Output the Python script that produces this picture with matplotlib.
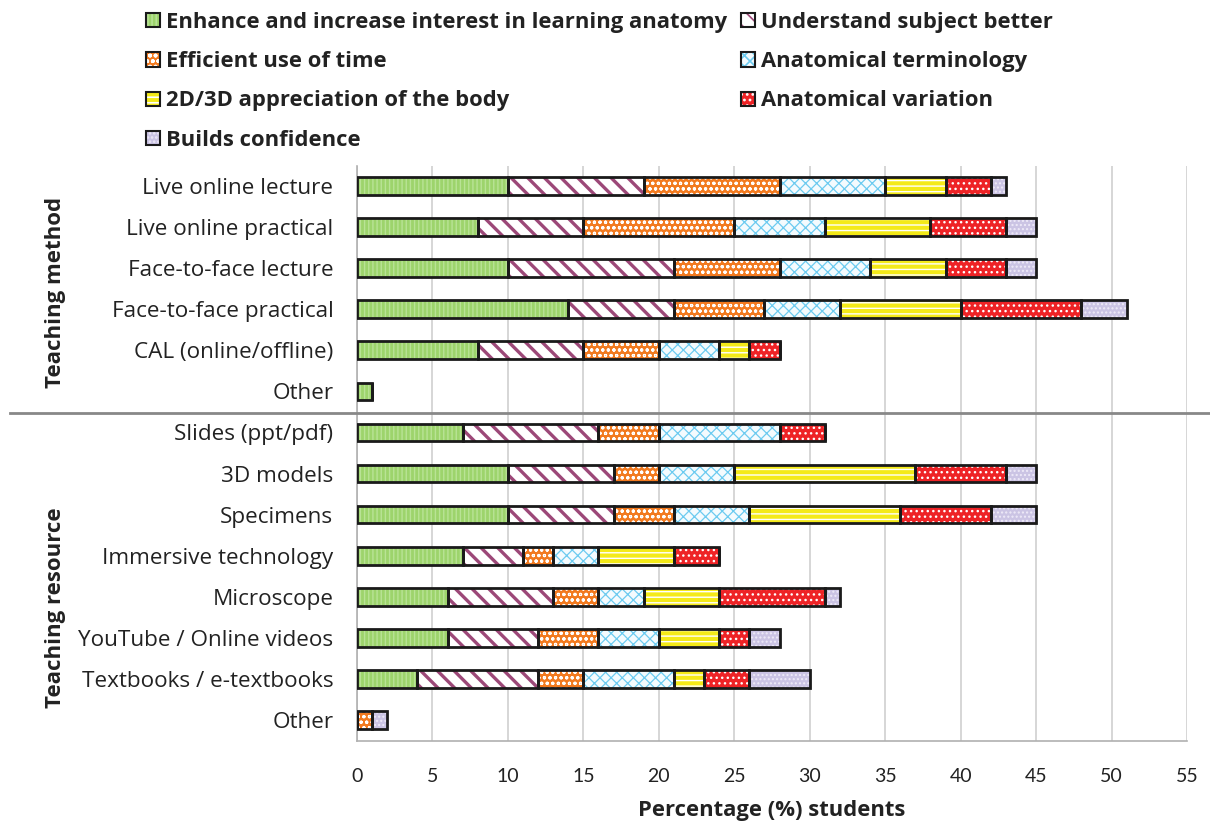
import matplotlib
matplotlib.use("Agg")
import matplotlib.pyplot as plt
from matplotlib.patches import Patch
from matplotlib.lines import Line2D

plt.rcParams["font.family"] = ["Open Sans", "DejaVu Sans"]
plt.rcParams["hatch.linewidth"] = 1.2

# Rows, top to bottom
categories = [
    "Live online lecture", "Live online practical", "Face-to-face lecture",
    "Face-to-face practical", "CAL (online/offline)", "Other",
    "Slides (ppt/pdf)", "3D models", "Specimens", "Immersive technology",
    "Microscope", "YouTube / Online videos", "Textbooks / e-textbooks", "Other",
]

series_names = [
    "Enhance and increase interest in learning anatomy",
    "Understand subject better",
    "Efficient use of time",
    "Anatomical terminology",
    "2D/3D appreciation of the body",
    "Anatomical variation",
    "Builds confidence",
]

enhance      = [10, 8, 10, 14, 8, 1, 7, 10, 10, 7, 6, 6, 4, 0]
understand   = [9, 7, 11, 7, 7, 0, 9, 7, 7, 4, 7, 6, 8, 0]
efficient    = [9, 10, 7, 6, 5, 0, 4, 3, 4, 2, 3, 4, 3, 1]
terminology  = [7, 6, 6, 5, 4, 0, 8, 5, 5, 3, 3, 4, 6, 0]
appreciation = [4, 7, 5, 8, 2, 0, 0, 12, 10, 5, 5, 4, 2, 0]
variation    = [3, 5, 4, 8, 2, 0, 3, 6, 6, 3, 7, 2, 3, 0]
confidence   = [1, 2, 2, 3, 0, 0, 0, 2, 3, 0, 1, 2, 4, 1]

series = [enhance, understand, efficient, terminology, appreciation,
          variation, confidence]

x_ticks = list(range(0, 56, 5))
group_labels = ["Teaching method", "Teaching resource"]

# face colour, hatch pattern, hatch colour, hatch line width
styles = [
    ("#9dd46c", "||||", "#b9e396", 1.0),
    ("#ffffff", "\\\\", "#9c4878", 2.4),
    ("#f27a1f", "ooo", "#ffffff", 0.8),
    ("#f4fbfe", "xxx", "#6ccbf0", 0.9),
    ("#f4ea18", "---", "#ffffff", 1.0),
    ("#ee2326", "...", "#ffffff", 1.0),
    ("#cbc4e4", "....", "#eeeaf8", 1.0),
]


def hatched(make, hatch_lw):
    with plt.rc_context({"hatch.linewidth": hatch_lw}):
        obj = make()
    parts = obj.patches if hasattr(obj, "patches") else [obj]
    for p in parts:
        if hasattr(p, "set_hatch_linewidth"):
            p.set_hatch_linewidth(hatch_lw)
    return obj


fig = plt.figure(figsize=(12.10, 8.27), dpi=100)
ax = fig.add_axes([357 / 1210, 1 - 740.5 / 827, 830 / 1210, 575 / 827])

ypos = list(range(len(categories)))
left = [0.0] * len(categories)
bar_h = 0.43
for vals, (fc, hatch, hc, hlw) in zip(series, styles):
    hatched(lambda: ax.barh(ypos, vals, left=left, height=bar_h, color=fc,
                            edgecolor=hc, hatch=hatch, linewidth=0, zorder=3),
            hlw)
    ax.barh(ypos, vals, left=left, height=bar_h, fill=False,
            edgecolor="#1a1a1a", linewidth=2.0, zorder=4)
    left = [a + b for a, b in zip(left, vals)]

ax.set_xlim(0, 55)
ax.set_ylim(len(categories) - 0.5, -0.5)
ax.set_xticks(x_ticks)
ax.set_xticklabels([str(t) for t in x_ticks], fontsize=14, color="#222222",
                   family=["Lato", "DejaVu Sans"])
ax.set_yticks(ypos)
ax.set_yticklabels(categories, fontsize=16.2, color="#222222")
ax.tick_params(axis="both", length=0)
ax.tick_params(axis="y", pad=17)
ax.tick_params(axis="x", pad=20)
ax.grid(axis="x", color="#d0d0d0", linewidth=1.2, zorder=0)
for side in ("top", "right"):
    ax.spines[side].set_visible(False)
for side in ("left", "bottom"):
    ax.spines[side].set_color("#b0b0b0")
    ax.spines[side].set_linewidth(1.2)

ax.set_xlabel("Percentage (%) students", fontsize=15.8, fontweight="bold",
              color="#222222", labelpad=10.5)

# Divider between the two groups of rows
sep_y = 1 - 413 / 827
fig.add_artist(Line2D([10 / 1210, 1.0], [sep_y, sep_y], color="#888888",
                      linewidth=2.0, transform=fig.transFigure))

fig.text(55 / 1210, 1 - 292 / 827, group_labels[0], rotation=90,
         ha="center", va="center", fontsize=16, fontweight="bold",
         color="#222222")
fig.text(55 / 1210, 1 - 608 / 827, group_labels[1], rotation=90,
         ha="center", va="center", fontsize=16, fontweight="bold",
         color="#222222")

# Legend: two columns, filled row by row
handles = []
for fc, hatch, hc, hlw in styles:
    fill = hatched(lambda: Patch(facecolor=fc, edgecolor=hc, hatch=hatch,
                                 linewidth=0), hlw)
    outline = Patch(fill=False, edgecolor="#1a1a1a", linewidth=1.5)
    handles.append((fill, outline))

col_a = [0, 2, 4, 6]
col_b = [1, 3, 5]
leg_kw = dict(frameon=False, prop={"size": 15.8, "weight": "bold"},
              handlelength=0.62, handleheight=0.62, handletextpad=0.3,
              labelspacing=0.83, borderaxespad=0, borderpad=0,
              labelcolor="#222222")
leg1 = fig.legend([handles[i] for i in col_a], [series_names[i] for i in col_a],
                  loc="upper left", bbox_to_anchor=(146 / 1210, 1 - 12 / 827),
                  **leg_kw)
leg2 = fig.legend([handles[i] for i in col_b], [series_names[i] for i in col_b],
                  loc="upper left", bbox_to_anchor=(741 / 1210, 1 - 12 / 827),
                  **leg_kw)

fig.savefig("out.png", dpi=100, facecolor="white")
